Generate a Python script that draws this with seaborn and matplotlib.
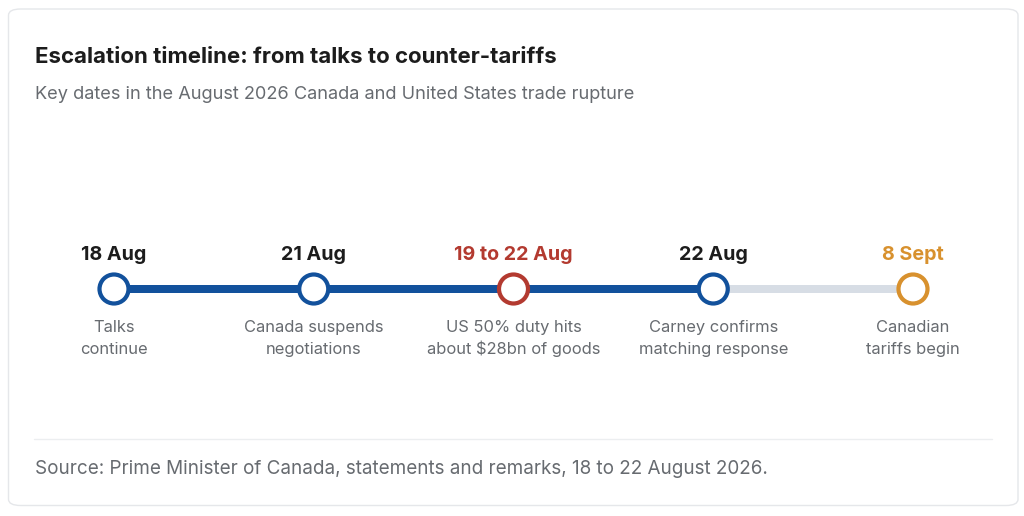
import matplotlib
matplotlib.use("Agg")
import matplotlib.pyplot as plt
from matplotlib.patches import FancyBboxPatch
from matplotlib.lines import Line2D
import seaborn as sns
import pandas as pd

sns.set_theme(style="white")
plt.rcParams['font.family'] = ['Inter', 'DejaVu Sans']

# ---- data ----
dates = ["18 Aug", "21 Aug", "19 to 22 Aug", "22 Aug", "8 Sept"]
labels = ["Talks\ncontinue", "Canada suspends\nnegotiations", "US 50% duty hits\nabout $28bn of goods",
          "Carney confirms\nmatching response", "Canadian\ntariffs begin"]
kinds = ["step", "step", "hit", "step", "future"]
track_done = [0, 1, 2, 3]
track_ahead = [3, 4]

title = "Escalation timeline: from talks to counter-tariffs"
subtitle = "Key dates in the August 2026 Canada and United States trade rupture"
source = "Source: Prime Minister of Canada, statements and remarks, 18 to 22 August 2026."

BLUE = "#12519c"
RED = "#b33a30"
ORANGE = "#d8912e"
TRACK_GREY = "#d7dde5"
DARK = "#1c1c1c"
GREY_TXT = "#676b70"
palette = {"step": BLUE, "hit": RED, "future": ORANGE}
date_colors = {"step": DARK, "hit": RED, "future": ORANGE}

W, H = 1024, 516
PX = 72 / 100  # points per pixel
fig = plt.figure(figsize=(W / 100, H / 100), dpi=100)
fig.patch.set_facecolor("white")

# card
card = FancyBboxPatch((8.5 / W, 10.5 / H), (1018 - 8.5) / W, (507 - 10.5) / H,
                      boxstyle="round,pad=0,rounding_size=0.012",
                      transform=fig.transFigure, facecolor="white",
                      edgecolor="#e5e7ea", linewidth=1.0, zorder=-5)
fig.patches.append(card)

# timeline axes: index 0 -> x=114px, 4 -> x=913px
step = (913 - 114) / 4
left_px = 114 - 0.5 * step
ax = fig.add_axes([left_px / W, 0, 5 * step / W, 1])
ax.set_zorder(2)
ax.set_xlim(-0.5, 4.5)
# y = 0 sits at 289 px from the top
ax.set_ylim(-(H - 289), 289)
ax.axis("off")
ax.patch.set_alpha(0)

df = pd.DataFrame({"x": list(range(len(dates))), "y": [0] * len(dates),
                   "kind": kinds, "date": dates, "label": labels})

lw = 8 * PX
sns.lineplot(x=track_ahead, y=[0] * len(track_ahead), ax=ax, color=TRACK_GREY,
             linewidth=lw, solid_capstyle="butt", zorder=1)
sns.lineplot(x=track_done, y=[0] * len(track_done), ax=ax, color=BLUE,
             linewidth=lw, solid_capstyle="butt", zorder=2)

diam_pt = 29 * PX
sns.scatterplot(data=df, x="x", y="y", hue="kind", palette=palette, ax=ax,
                s=diam_pt ** 2, linewidth=4.2 * PX,
                legend=False, zorder=3)
coll = ax.collections[-1]
coll.set_facecolor("white")
coll.set_edgecolor([palette[k] for k in df["kind"]])

for _, r in df.iterrows():
    ax.annotate(r["date"], xy=(r["x"], 0), xytext=(0, 29 * PX), textcoords="offset points",
                ha="center", va="baseline", fontsize=14.2, fontweight="bold",
                color=date_colors[r["kind"]])
    for j, line in enumerate(r["label"].split("\n")):
        ax.annotate(line, xy=(r["x"], 0), xytext=(0, -(43 + 22 * j) * PX),
                    textcoords="offset points", ha="center", va="baseline",
                    fontsize=11.9, color=GREY_TXT)

# titles
fig.text(35 / W, 1 - 63 / H, title, ha="left", va="baseline", fontsize=16.0,
         fontweight="bold", color=DARK)
fig.text(35 / W, 1 - 99 / H, subtitle, ha="left", va="baseline", fontsize=13.1, color=GREY_TXT)

# separator
fig.lines.append(Line2D([34 / W, 992 / W], [1 - 439 / H, 1 - 439 / H], transform=fig.transFigure,
                        color="#eceef0", linewidth=1.0))
fig.text(35 / W, 1 - 474 / H, source, ha="left", va="baseline", fontsize=13.6, color=GREY_TXT)

fig.savefig("out.png", dpi=100, facecolor="white")
